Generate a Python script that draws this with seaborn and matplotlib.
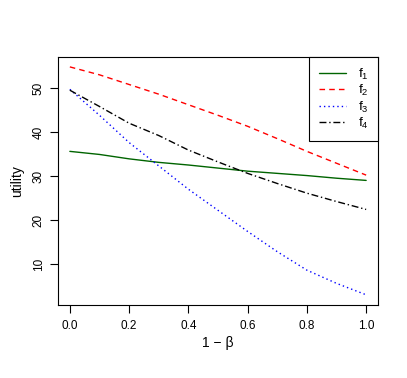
import matplotlib
matplotlib.use("Agg")
import matplotlib.pyplot as plt
import seaborn as sns
import pandas as pd

# data
x_vals = [0.0, 0.1, 0.2, 0.3, 0.4, 0.5, 0.6, 0.7, 0.8, 0.9, 1.0]
f1 = [35.6, 34.9, 33.9, 33.1, 32.5, 31.8, 31.1, 30.6, 30.1, 29.5, 29.0]
f2 = [54.8, 53.0, 50.8, 48.6, 46.2, 43.8, 41.3, 38.5, 35.6, 32.9, 30.2]
f3 = [49.7, 43.8, 37.6, 32.3, 27.0, 22.2, 17.4, 12.8, 8.6, 5.6, 3.0]
f4 = [49.5, 45.8, 42.0, 39.2, 35.9, 33.2, 30.6, 28.3, 26.1, 24.2, 22.4]
series_names = ["f$_1$", "f$_2$", "f$_3$", "f$_4$"]
x_ticks = [0.0, 0.2, 0.4, 0.6, 0.8, 1.0]
y_ticks = [10, 20, 30, 40, 50]

sns.set_theme(style="white")
plt.rcParams["font.family"] = ["Liberation Sans", "DejaVu Sans"]
plt.rcParams["mathtext.fontset"] = "custom"
plt.rcParams["mathtext.rm"] = "Liberation Sans"
plt.rcParams["mathtext.it"] = "Liberation Sans:italic"
for k in ["text.color", "axes.labelcolor", "xtick.color", "ytick.color"]:
    plt.rcParams[k] = "black"

df = pd.DataFrame({
    "x": x_vals * 4,
    "y": f1 + f2 + f3 + f4,
    "series": sum([[n] * len(x_vals) for n in series_names], []),
})

colors = ["#006400", "#ff0000", "#0000ff", "#000000"]
dashes = [(None, None), (4, 3), (1, 2.2), (5, 2, 1, 2)]

fig = plt.figure(figsize=(4.07, 3.78), dpi=100)
ax = fig.add_axes([58/407, 1-305/378, (378-58)/407, (305-57)/378])

for name, c in zip(series_names, colors):
    sub = df[df["series"] == name]
    sns.lineplot(data=sub, x="x", y="y", color=c, ax=ax, label=name,
                 linewidth=1.0)
for ln, d in zip(ax.get_lines(), dashes):
    if d[0] is not None:
        ln.set_dashes(d)

ax.set_xlim(-0.04, 1.04)
ax.set_ylim(0.68, 57.05)
ax.set_xticks(x_ticks)
ax.set_xticklabels(["0.0", "0.2", "0.4", "0.6", "0.8", "1.0"])
ax.set_yticks(y_ticks)
ax.set_yticklabels([str(v) for v in y_ticks], rotation=90, va="center")
ax.tick_params(axis="both", direction="out", length=5.5, width=0.8,
               color="black", labelcolor="black", labelsize=8.5, pad=5,
               bottom=True, left=True)
ax.tick_params(axis="y", pad=4)
for s in ax.spines.values():
    s.set_color("black")
    s.set_linewidth(0.8)
ax.set_xlabel("1 − β", fontsize=10, labelpad=3)
ax.set_ylabel("utility", fontsize=10, labelpad=6)

leg = ax.legend(loc="upper right", fontsize=9.7, frameon=True, fancybox=False,
                borderaxespad=0, handlelength=2.0, handletextpad=0.85,
                labelspacing=0.1, borderpad=0.72, edgecolor="black")
leg.get_frame().set_linewidth(0.8)
leg.get_frame().set_alpha(1)
for h, d in zip(leg.get_lines(), dashes):
    if d[0] is not None:
        h.set_dashes(d)

fig.savefig("out.png", dpi=100)
